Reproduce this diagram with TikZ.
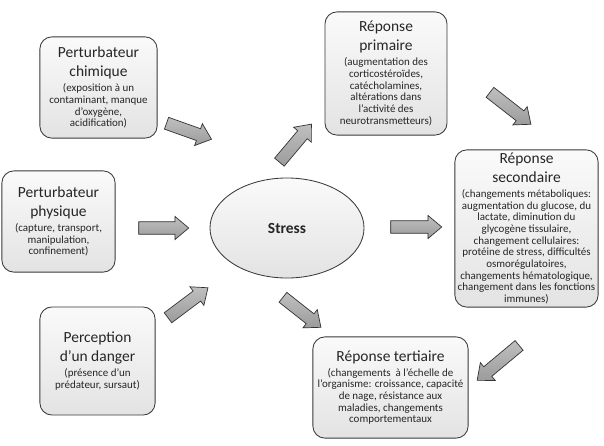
\documentclass[tikz,border=0pt]{standalone}
\usepackage{fontspec}
\usepackage{varwidth}
\setmainfont{Carlito}
\usetikzlibrary{shapes.geometric, shapes.arrows, calc}

% fat grey arrow from a tail coordinate to a head coordinate
\newcommand{\blockarrow}[3]{%
  \path let \p1=(#2), \p2=(#3),
    \n1={atan2(\y2-\y1,\x2-\x1)},
    \n2={veclen(\x2-\x1,\y2-\y1)} in
    node[fatarrow, rotate=\n1, minimum height=\n2] (#1) at ($(#2)!0.5!(#3)$) {};}

% title lines, then the small explanation lines
\newcommand{\boxtext}[2]{%
  \begin{varwidth}{9cm}\centering
    \fontsize{11}{13.5}\selectfont #1\par\vspace{2.5pt}
    \fontsize{7.8}{8.3}\selectfont #2\par
  \end{varwidth}}

\begin{document}
\begin{tikzpicture}[x=0.025cm, y=-0.025cm,
    box/.style={draw=gray!45!black, line width=0.6pt, rounded corners=0.3cm,
        top color=gray!4, bottom color=gray!22,
        inner sep=0pt, text=black!85},
    fatarrow/.style={single arrow, draw=gray!40!black, line width=0.5pt,
        top color=gray!50, bottom color=gray!78, minimum width=0pt,
        inner sep=4.2pt, single arrow head extend=3.8pt,
        single arrow tip angle=80}]

    \useasboundingbox (0,0) rectangle (604,446);

    % ================= causes =================
    \node[box, minimum width=2.93cm, minimum height=2.53cm] (chimique) at (98.5,87.5)
        {\boxtext{Perturbateur\\chimique}
                 {(exposition à un\\contaminant, manque\\d’oxygène,\\acidification)}};
    \node[box, minimum width=2.83cm, minimum height=2.53cm] (physique) at (58.5,221.5)
        {\boxtext{Perturbateur\\physique}
                 {(capture, transport,\\manipulation,\\confinement)}};
    \node[box, minimum width=2.88cm, minimum height=2.70cm] (danger) at (97.5,361)
        {\boxtext{Perception\\d’un danger}
                 {(présence d’un\\prédateur, sursaut)}};

    % ================= Stress =================
    \node[ellipse, draw=gray!45!black, line width=0.6pt, top color=gray!4,
        bottom color=gray!22, minimum width=3.85cm, minimum height=2.5cm,
        font=\fontsize{11}{13}\selectfont\bfseries, text=black!85] (stress) at (287,228) {Stress};

    % ================= responses =================
    \node[box, minimum width=3.05cm, minimum height=3.08cm] (primaire) at (386,73.5)
        {\boxtext{Réponse\\primaire}
                 {(augmentation des\\corticostéroïdes,\\catécholamines,\\altérations dans\\l’activité des\\neurotransmetteurs)}};
    \node[box, minimum width=3.58cm, minimum height=3.93cm] (secondaire) at (526.5,228.5)
        {\boxtext{Réponse\\secondaire}
                 {(changements métaboliques:\\augmentation du glucose, du\\lactate, diminution du\\glycogène tissulaire,\\changement cellulaires:\\protéine de stress, difficultés\\osmorégulatoires,\\changements hématologique,\\changement dans les fonctions\\immunes)}};
    \node[box, minimum width=3.88cm, minimum height=2.53cm] (tertiaire) at (390.5,387.5)
        {\boxtext{Réponse tertiaire}
                 {(changements~ à l’échelle de\\l’organisme: croissance, capacité\\de nage, résistance aux\\maladies, changements\\comportementaux}};

    % ================= arrows =================
    \coordinate (t1) at (163,122);  \coordinate (h1) at (208,138);
    \coordinate (t2) at (135,228);  \coordinate (h2) at (185,228);
    \coordinate (t3) at (165,320);  \coordinate (h3) at (205,290);
    \coordinate (t4) at (277,165);  \coordinate (h4) at (309,127);
    \coordinate (t5) at (387,227);  \coordinate (h5) at (438,227);
    \coordinate (t6) at (487,90);   \coordinate (h6) at (528,122);
    \coordinate (t7) at (280,295);  \coordinate (h7) at (318,325);
    \coordinate (t8) at (522,343);  \coordinate (h8) at (480,378);

    \blockarrow{a1}{t1}{h1}
    \blockarrow{a2}{t2}{h2}
    \blockarrow{a3}{t3}{h3}
    \blockarrow{a4}{t4}{h4}
    \blockarrow{a5}{t5}{h5}
    \blockarrow{a6}{t6}{h6}
    \blockarrow{a7}{t7}{h7}
    \blockarrow{a8}{t8}{h8}

\end{tikzpicture}
\end{document}
